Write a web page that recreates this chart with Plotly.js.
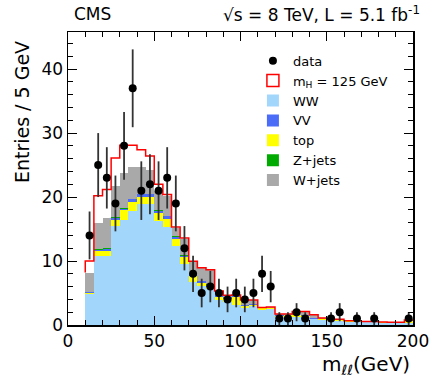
<!DOCTYPE html>
<html>
<head>
<meta charset="utf-8">
<script src="https://cdn.plot.ly/plotly-3.0.1.min.js"></script>
<style>
html,body{margin:0;padding:0;background:#fff;}
#plot{width:442px;height:387px;}
</style>
</head>
<body>
<div id="plot"></div>
<script>
// ================= DATA =================
// bin centres (5 GeV bins, 10-200 GeV)
let mll = [12.5,17.5,22.5,27.5,32.5,37.5,42.5,47.5,52.5,57.5,
62.5,67.5,72.5,77.5,82.5,87.5,92.5,97.5,102.5,107.5,
112.5,117.5,122.5,127.5,132.5,137.5,142.5,147.5,152.5,157.5,
162.5,167.5,172.5,177.5,182.5,187.5,192.5,197.5];

let dataCounts = [14,25,23,19,28,37,21,22,21,23,
19,12,8,5,6,5,4,5,4,5,
8,6,1,1,2,1,0,0,1,2,
0,1,0,1,0,0,0,1];

let ww = [4.8,10.8,10.8,15.5,16.4,17.8,18.9,18.9,16.3,15.3,
12.4,9.6,6.8,6.1,5.6,3.9,3.6,3.1,2.6,2.9,
2.3,2.5,1.2,1.3,1.3,1.3,0.9,0.8,0.7,0.7,
0.5,0.5,0.4,0.4,0.35,0.3,0.3,0.3];

let topQuark = [0.25,0.7,0.8,0.95,1.5,1.5,1.15,1.15,1.15,1.3,
1.0,1.0,0.8,0.5,0.4,0.5,0.5,1.3,0.35,0.25,
0.3,0.1,0.25,0.2,0.2,0.1,0.1,0.15,0.1,0.1,
0.05,0.05,0.05,0.05,0.05,0.05,0.05,0.4];

let vv = [0.05,0.3,0.35,0.35,0.3,0.35,0.4,0.4,0.4,0.4,
0.4,0.25,0.3,0.3,0.3,0.3,0.2,0.2,0.2,0.2,
0.1,0.1,0.1,0.1,0.1,0.1,0.05,0.05,0.05,0.05,
0.05,0.05,0.03,0.03,0.03,0.03,0.03,0.03];

let zjets = [0.05,0.05,0.05,0.05,0.05,0.05,0.05,0.05,0.05,0.05,
0.05,0.05,0.05,0.05,0.05,0,0,0,0,0,
0,0,0,0,0,0,0,0,0,0,
0,0,0,0,0,0,0,0];

let wjets = [3.05,4.15,4.8,4.85,5.55,5.0,4.2,3.8,3.1,3.15,
1.25,2.6,1.95,1.95,2.25,0.55,0.3,0.1,0.75,0.55,
0.05,0.1,0.15,0.1,0.5,0.6,0.55,0.1,0.05,0.05,
0.05,0.05,0.05,0.05,0.05,0.05,0.05,0.05];

let higgs = [1.8,4.2,4.4,4.4,4.3,3.4,2.7,2.1,1.0,0.2,
0.2,0.1,0.05,0.05,0.05,0.05,0.05,0,0,0,
0,0,0,0,0,0,0,0,0,0,
0,0,0,0,0,0,0,0];

const FONT = "DejaVu Sans, Liberation Sans, Arial, sans-serif";

// ================= STACK =================
function bkgTrace(name, y, color, rank){
return {
type:"bar", name:name, x:mll, y:y, width:5,
marker:{color:color, line:{width:0}},
legendrank:rank, hoverinfo:"skip"
};
}

let stackTop = mll.map((m,i)=>ww[i]+topQuark[i]+vv[i]+zjets[i]+wjets[i]);
let total = stackTop.map((s,i)=>s+higgs[i]);

// signal outline as a step line over the stack
let stepX = [mll[0]-2.5];
let stepY = [stackTop[0]];
mll.forEach((m,i)=>{ stepX.push(m-2.5); stepY.push(total[i]); });
stepX.push(mll[mll.length-1]+2.5);
stepY.push(total[total.length-1]);

let traces = [
bkgTrace("WW", ww, "#a3d6fb", 3),
bkgTrace("top", topQuark, "#ffff00", 5),
bkgTrace("VV", vv, "#4a6cf7", 4),
bkgTrace("Z+jets", zjets, "#00aa00", 6),
bkgTrace("W+jets", wjets, "#a9a9a9", 7),
{
type:"scatter", mode:"lines", x:stepX, y:stepY,
line:{color:"#ff0000", width:1.5, shape:"hv"},
showlegend:false, hoverinfo:"skip"
},
{
// legend entry only
type:"bar", name:"m<sub>H</sub> = 125 GeV", x:[null], y:[null],
marker:{color:"rgba(255,255,255,1)", line:{color:"#ff0000", width:1.5}},
legendrank:2
},
{
type:"scatter", mode:"markers", name:"data",
x:mll,
y:dataCounts.map(n=>n>0?n:null),
error_y:{type:"data", array:dataCounts.map(n=>Math.sqrt(n)), visible:true,
thickness:1.8, width:0, color:"#333"},
marker:{color:"#000", size:8},
legendrank:1
}
];

// ================= LAYOUT =================
let axisStyle = {
showline:true, linecolor:"#000", linewidth:1.5, mirror:"ticks",
ticks:"inside", ticklen:9, tickwidth:1, tickcolor:"#000",
showgrid:false, zeroline:false,
tickfont:{family:FONT, size:17, color:"#000"}
};

let layout = {
width:442, height:387,
margin:{l:68, r:29, t:32, b:62},
paper_bgcolor:"#fff", plot_bgcolor:"#fff",
barmode:"stack", bargap:0,
font:{family:FONT, color:"#000"},
xaxis:Object.assign({}, axisStyle, {
range:[0,200], dtick:50,
minor:{dtick:10, ticklen:5, ticks:"inside", tickcolor:"#000"}
}),
yaxis:Object.assign({}, axisStyle, {
range:[0,45.8], dtick:10,
minor:{dtick:2, ticklen:5, ticks:"inside", tickcolor:"#000"}
}),
legend:{
x:0.536, y:0.953, xanchor:"left", yanchor:"top",
bgcolor:"rgba(0,0,0,0)", traceorder:"normal",
font:{family:FONT, size:13, color:"#000"}
},
annotations:[
{text:"CMS", xref:"paper", yref:"paper", x:0.012, y:1.062,
xanchor:"left", yanchor:"middle", showarrow:false,
font:{family:FONT, size:17}},
{text:"√s = 8 TeV, L = 5.1 fb<sup>-1</sup>", xref:"paper", yref:"paper", x:1.026, y:1.062,
xanchor:"right", yanchor:"middle", showarrow:false,
font:{family:FONT, size:17}},
{text:"Entries / 5 GeV", xref:"paper", yref:"paper", x:-0.133, y:0.727,
xanchor:"center", yanchor:"middle", textangle:-90, showarrow:false,
font:{family:FONT, size:19}},
{text:"m<sub>ℓℓ</sub>(GeV)", xref:"paper", yref:"paper", x:0.997, y:-0.135,
xanchor:"right", yanchor:"middle", showarrow:false,
font:{family:FONT, size:20}}
]
};

Plotly.newPlot("plot", traces, layout, {staticPlot:true});
</script>
</body>
</html>
